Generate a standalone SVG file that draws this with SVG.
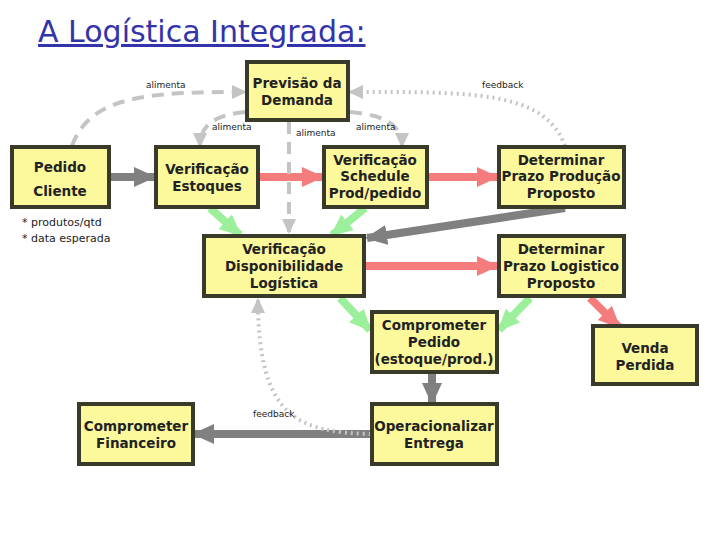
<svg xmlns="http://www.w3.org/2000/svg" width="712" height="540" viewBox="0 0 712 540">
<style>
.b{fill:#fbf99c;stroke:#3a3a2a;stroke-width:4}
.t{font-family:"DejaVu Sans",sans-serif;font-size:13.5px;font-weight:bold;fill:#222;text-anchor:middle}
.s{font-family:"DejaVu Sans",sans-serif;font-size:9px;fill:#222}
.g{stroke:#808080;stroke-width:8;fill:none}
.r{stroke:#f47c7c;stroke-width:8;fill:none}
.gr{stroke:#9cf09c;stroke-width:8;fill:none}
.d{stroke:#c4c4c4;stroke-width:4;fill:none;stroke-dasharray:12,8}
.o{stroke:#c4c4c4;stroke-width:4;fill:none;stroke-dasharray:2,4}
</style>
<defs>
<marker id="mg" markerUnits="userSpaceOnUse" markerWidth="24" markerHeight="24" refX="20" refY="12" orient="auto"><path d="M0,2 L22,12 L0,22 Z" fill="#808080"/></marker>
<marker id="mr" markerUnits="userSpaceOnUse" markerWidth="24" markerHeight="24" refX="20" refY="12" orient="auto"><path d="M0,2 L22,12 L0,22 Z" fill="#f47c7c"/></marker>
<marker id="mgr" markerUnits="userSpaceOnUse" markerWidth="24" markerHeight="24" refX="20" refY="12" orient="auto"><path d="M0,2 L22,12 L0,22 Z" fill="#9cf09c"/></marker>
<marker id="ml" markerUnits="userSpaceOnUse" markerWidth="16" markerHeight="16" refX="13" refY="8" orient="auto"><path d="M0,1 L15,8 L0,15 Z" fill="#c4c4c4"/></marker>
</defs>
<text x="38" y="42" font-family="DejaVu Sans, sans-serif" font-size="30" fill="#3333aa" text-decoration="underline">A Logística Integrada:</text>
<g id="connectors">
<line class="g" x1="110" y1="177" x2="154" y2="177" marker-end="url(#mg)"/>
<line class="r" x1="259" y1="177" x2="322" y2="177" marker-end="url(#mr)"/>
<line class="r" x1="428" y1="177" x2="497" y2="177" marker-end="url(#mr)"/>
<line class="g" x1="565" y1="208" x2="367" y2="238" marker-end="url(#mg)"/>
<line class="r" x1="365" y1="266" x2="497" y2="266" marker-end="url(#mr)"/>
<line class="gr" x1="210" y1="208" x2="240" y2="235" marker-end="url(#mgr)"/>
<line class="gr" x1="365" y1="208" x2="332" y2="235" marker-end="url(#mgr)"/>
<line class="gr" x1="340" y1="298" x2="370" y2="330" marker-end="url(#mgr)"/>
<line class="gr" x1="530" y1="298" x2="499" y2="330" marker-end="url(#mgr)"/>
<line class="r" x1="590" y1="298" x2="619" y2="327" marker-end="url(#mr)"/>
<line class="g" x1="432" y1="374" x2="432" y2="403" marker-end="url(#mg)"/>
<line class="g" x1="371" y1="434" x2="194" y2="434" marker-end="url(#mg)"/>
<path class="o" d="M371,434 C300,432 258,420 258,300" marker-end="url(#ml)"/>
<path class="o" d="M565,146 C545,90 470,92 350,92" marker-end="url(#ml)"/>
<path class="d" d="M72,146 C90,95 150,92 245,92" marker-end="url(#ml)"/>
<path class="d" d="M245,112 C215,115 200,125 200,146" marker-end="url(#ml)"/>
<line class="d" x1="289" y1="122" x2="289" y2="232" marker-end="url(#ml)"/>
<path class="d" d="M350,112 C385,115 402,125 402,146" marker-end="url(#ml)"/>
<text class="s" x="146" y="88">alimenta</text>
<text class="s" x="212" y="130">alimenta</text>
<text class="s" x="296" y="136">alimenta</text>
<text class="s" x="356" y="130">alimenta</text>
<text class="s" x="482" y="88">feedback</text>
<text class="s" x="253" y="417">feedback</text>
</g>
<g id="previsao"><rect class="b" x="247" y="62" width="101" height="58"/><text class="t" x="297" y="88">Previsão da</text><text class="t" x="297" y="105">Demanda</text></g>
<g id="pedido"><rect class="b" x="12" y="147" width="97" height="60"/><text class="t" x="60" y="172" font-size="19" font-weight="normal">Pedido</text><text class="t" x="60" y="196" font-size="19" font-weight="normal">Cliente</text></g>
<text x="22" y="226" font-family="DejaVu Sans, sans-serif" font-size="11" fill="#222">* produtos/qtd</text>
<text x="22" y="242" font-family="DejaVu Sans, sans-serif" font-size="11" fill="#222">* data esperada</text>
<g id="estoques"><rect class="b" x="156" y="147" width="102" height="60"/><text class="t" x="207" y="174">Verificação</text><text class="t" x="207" y="191">Estoques</text></g>
<g id="schedule"><rect class="b" x="324" y="147" width="103" height="60"/><text class="t" x="375" y="165">Verificação</text><text class="t" x="375" y="181">Schedule</text><text class="t" x="375" y="198">Prod/pedido</text></g>
<g id="prazoprod"><rect class="b" x="499" y="147" width="125" height="60"/><text class="t" x="561" y="165">Determinar</text><text class="t" x="561" y="181">Prazo Produção</text><text class="t" x="561" y="198">Proposto</text></g>
<g id="disp"><rect class="b" x="204" y="236" width="160" height="60"/><text class="t" x="284" y="254">Verificação</text><text class="t" x="284" y="271">Disponibilidade</text><text class="t" x="284" y="288">Logística</text></g>
<g id="prazolog"><rect class="b" x="499" y="236" width="125" height="60"/><text class="t" x="561" y="254">Determinar</text><text class="t" x="561" y="271">Prazo Logistico</text><text class="t" x="561" y="288">Proposto</text></g>
<g id="comprpedido"><rect class="b" x="372" y="312" width="125" height="60"/><text class="t" x="434" y="330">Comprometer</text><text class="t" x="434" y="347">Pedido</text><text class="t" x="434" y="364">(estoque/prod.)</text></g>
<g id="venda"><rect class="b" x="593" y="326" width="104" height="58"/><text class="t" x="645" y="353">Venda</text><text class="t" x="645" y="370">Perdida</text></g>
<g id="operacionalizar"><rect class="b" x="372" y="404" width="125" height="60"/><text class="t" x="434" y="431">Operacionalizar</text><text class="t" x="434" y="448">Entrega</text></g>
<g id="financeiro"><rect class="b" x="79" y="404" width="114" height="60"/><text class="t" x="136" y="431">Comprometer</text><text class="t" x="136" y="448">Financeiro</text></g>
</svg>
